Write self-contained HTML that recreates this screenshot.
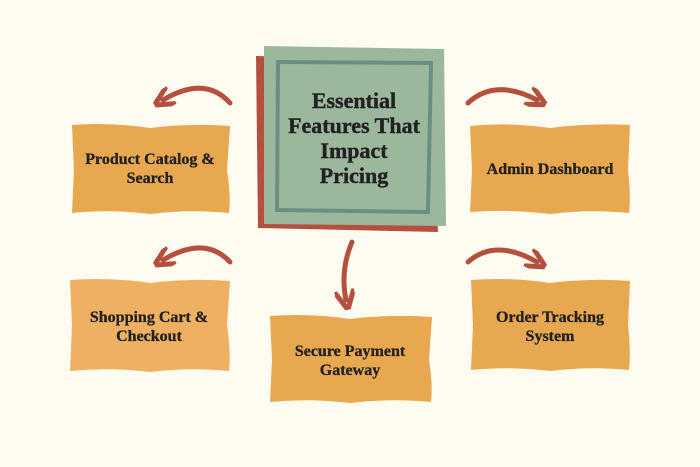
<!DOCTYPE html>
<html><head><style>
html,body{margin:0;padding:0;background:#fefbf0;}
svg{display:block}
text{font-family:"Liberation Serif",serif;font-weight:bold;fill:#222;text-anchor:middle}
</style></head><body>
<svg width="700" height="467" viewBox="0 0 700 467">
<rect width="700" height="467" fill="#fefbf0"/>
<defs>
<marker id="ah" viewBox="0 0 10 10" refX="5" refY="5" markerWidth="4" markerHeight="4" orient="auto-start-reverse">
<path d="M0,0 L10,5 L0,10" fill="none" stroke="#b5503f" stroke-width="2.5"/>
</marker>
</defs>
<!-- center -->
<path d="M256,56 L430,60 L438,232 L258,228 Z" fill="#b5503f"/>
<path d="M264,46 L444,49 L446,226 L264,224 Z" fill="#9cb89c"/>
<path d="M278,62 L431,63 L428,212 L277,210 Z" fill="none" stroke="#6a8f82" stroke-width="4"/>
<text font-size="22" x="354" y="108" stroke="#222" stroke-width="0.4">Essential</text>
<text font-size="22" x="354" y="133" stroke="#222" stroke-width="0.4">Features That</text>
<text font-size="22" x="354" y="158" stroke="#222" stroke-width="0.4">Impact</text>
<text font-size="22" x="354" y="183" stroke="#222" stroke-width="0.4">Pricing</text>
<!-- boxes -->
<path d="M72,125 Q110,122 150,128 Q190,123 230,126 L227,170 Q231,195 229,213 Q190,209 150,214 Q110,209 72,213 L74,170 Z" fill="#e8a850"/>
<text font-size="16" x="150" y="164" stroke="#222" stroke-width="0.3">Product Catalog &amp;</text>
<text font-size="16" x="150" y="183" stroke="#222" stroke-width="0.3">Search</text>
<path d="M470,126 Q510,122 550,128 Q590,123 630,125 L628,170 Q631,195 629,213 Q590,209 550,214 Q510,209 470,212 L472,170 Z" fill="#e8a850"/>
<text font-size="16" x="550" y="174" stroke="#222" stroke-width="0.3">Admin Dashboard</text>
<path d="M70,280 Q110,277 150,283 Q190,278 230,281 L227,325 Q231,350 229,371 Q190,367 150,372 Q110,367 70,371 L72,325 Z" fill="#f0b062"/>
<text font-size="16" x="149" y="322" stroke="#222" stroke-width="0.3">Shopping Cart &amp;</text>
<text font-size="16" x="149" y="341" stroke="#222" stroke-width="0.3">Checkout</text>
<path d="M270,316 Q310,313 350,319 Q390,314 432,317 L429,360 Q433,385 431,402 Q390,398 350,403 Q310,398 270,402 L272,360 Z" fill="#e8a850"/>
<text font-size="16" x="350" y="356" stroke="#222" stroke-width="0.3">Secure Payment</text>
<text font-size="16" x="350" y="375" stroke="#222" stroke-width="0.3">Gateway</text>
<path d="M471,280 Q510,277 550,283 Q590,278 630,281 L628,325 Q631,350 629,370 Q590,366 550,371 Q510,366 471,370 L473,325 Z" fill="#e8a850"/>
<text font-size="16" x="550" y="322" stroke="#222" stroke-width="0.3">Order Tracking</text>
<text font-size="16" x="550" y="341" stroke="#222" stroke-width="0.3">System</text>
<!-- arrows -->
<g fill="none" stroke="#b5503f" stroke-width="5" stroke-linecap="round">
<path d="M230,103 Q205,75 163,100" marker-end="url(#ah)"/>
<path d="M468,103 Q495,78 537,100" marker-end="url(#ah)"/>
<path d="M230,262 Q205,235 163,260" marker-end="url(#ah)"/>
<path d="M468,262 Q495,238 537,262" marker-end="url(#ah)"/>
<path d="M352,242 Q340,270 346,300" marker-end="url(#ah)"/>
</g>
</svg>
</body></html>
